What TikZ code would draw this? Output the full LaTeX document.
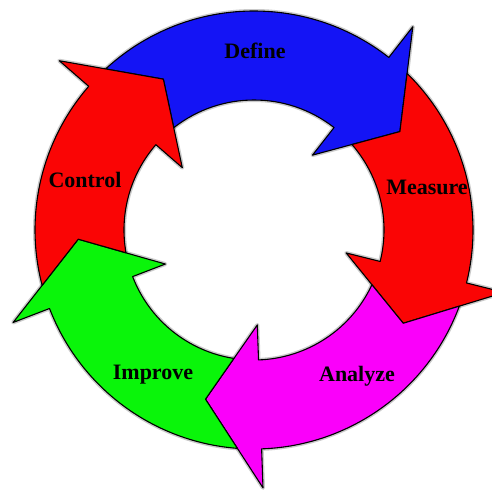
\documentclass[tikz,border=0pt]{standalone}
\usepackage{fontspec}
\setmainfont{Liberation Serif}
\usetikzlibrary{calc}

\definecolor{defblue}{RGB}{20,20,245}
\definecolor{cycred}{RGB}{250,5,5}
\definecolor{anamag}{RGB}{250,0,250}
\definecolor{impgreen}{RGB}{10,245,10}

\begin{document}
\begin{tikzpicture}[
        x=1pt, y=1pt,
        ring/.style={draw=black, line width=1.1pt, line join=round},
        halo/.style={draw=black!60, line width=4pt, line join=round, opacity=0.35},
        stage/.style={font=\fontsize{22}{24}\selectfont\bfseries, text=black, inner sep=1pt}
    ]
% радиусы кольца и стрелок
    \def\Rout{219} \def\Rin{130} \def\Rmid{176}
    \def\Rbo{258} \def\Rbi{95}
    \def\Dh{18} \def\Do{6.35} \def\Di{10.9}

% поле рисунка
    \useasboundingbox (-254,-265) rectangle (237,230);

% мягкая тень под кольцом
    \foreach \a/\b in {139/52, 52/-14, -14/-88, -88/-159, -159/-221}
        \draw[halo] (\a-\Do:\Rout) arc[start angle=\a-\Do, end angle=\b, radius=\Rout]
            -- (\b:\Rbo) -- (\b-\Dh:\Rmid) -- (\b:\Rbi) -- (\b:\Rin)
            arc[start angle=\b, end angle=\a-\Di, radius=\Rin]
            -- (\a-\Dh:\Rmid) -- cycle;

% пять стрелок цикла (по часовой стрелке)
    \foreach \a/\b/\col in {139/52/defblue, 52/-14/cycred, -14/-88/anamag,
                            -88/-159/impgreen, -159/-221/cycred}
        \draw[ring, fill=\col] (\a-\Do:\Rout) arc[start angle=\a-\Do, end angle=\b, radius=\Rout]
            -- (\b:\Rbo) -- (\b-\Dh:\Rmid) -- (\b:\Rbi) -- (\b:\Rin)
            arc[start angle=\b, end angle=\a-\Di, radius=\Rin]
            -- (\a-\Dh:\Rmid) -- cycle;

% подписи этапов
    \node[stage] (define)  at (1,179)     {Define};
    \node[stage] (measure) at (173,43)    {Measure};
    \node[stage] (analyze) at (103,-146)  {Analyze};
    \node[stage] (improve) at (-101,-145) {Improve};
    \node[stage] (control) at (-169,50)   {Control};
\end{tikzpicture}
\end{document}
